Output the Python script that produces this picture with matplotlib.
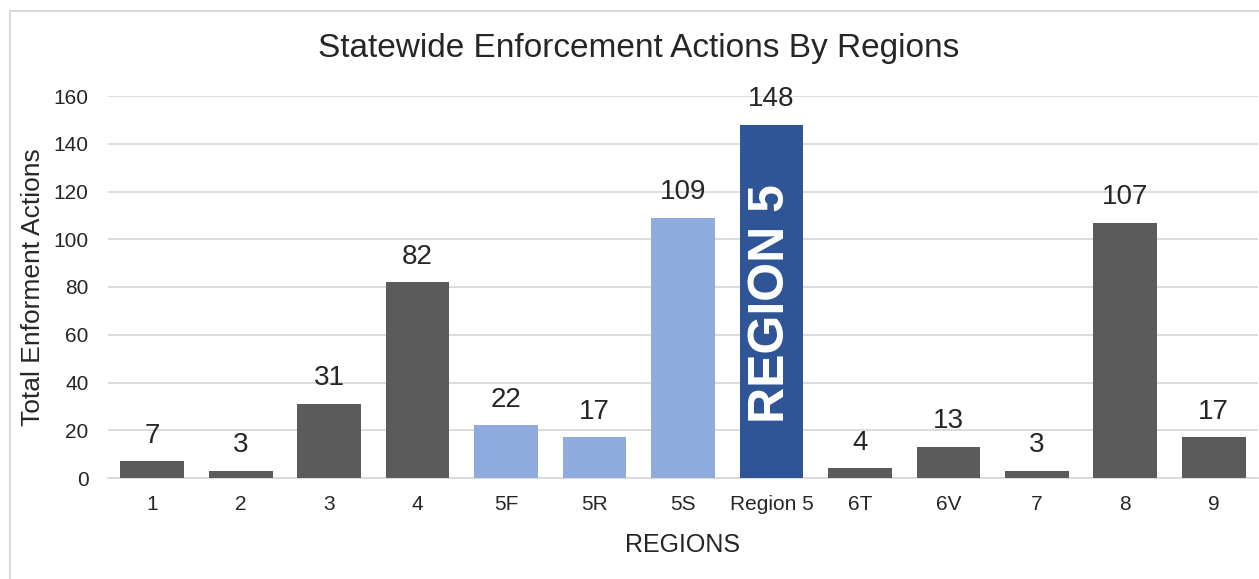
import matplotlib
matplotlib.use("Agg")
import matplotlib.pyplot as plt
from matplotlib.patches import Rectangle

# data ----------------------------------------------------------------------
regions = ["1", "2", "3", "4", "5F", "5R", "5S", "Region 5", "6T", "6V", "7", "8", "9"]
actions = [7, 3, 31, 82, 22, 17, 109, 148, 4, 13, 3, 107, 17]
groups = ["other", "other", "other", "other", "sub5", "sub5", "sub5", "total5",
          "other", "other", "other", "other", "other"]

colors = {"other": "#5B5B5B", "sub5": "#8FAADC", "total5": "#2F5597"}

plt.rcParams["font.family"] = ["Liberation Sans", "DejaVu Sans"]

fig = plt.figure(figsize=(12.59, 5.79), dpi=100)
ax = fig.add_axes([108 / 1259, 1 - 478 / 579, 1150 / 1259, 382 / 579])

# light chart-area border (cut off at right / bottom like the reference)
fig.patches.append(Rectangle((10 / 1259, -0.1), 1.2, 1 - 10.5 / 579 + 0.1,
                             transform=fig.transFigure, fill=False,
                             edgecolor="#D9D9D9", linewidth=1.5))

x = list(range(len(regions)))
bars = ax.bar(x, actions, width=0.72, color=[colors[g] for g in groups], zorder=3)

for rect, v in zip(bars, actions):
    ax.annotate(str(v), (rect.get_x() + rect.get_width() / 2, v),
                xytext=(0, 9), textcoords="offset points",
                ha="center", va="bottom", fontsize=20, color="#262626")

# label written inside the Region 5 bar
i5 = regions.index("Region 5")
ax.text(i5, 73, "REGION 5", rotation=90, ha="center", va="center",
        color="white", fontsize=36, fontweight="bold", zorder=4)

ax.set_xlim(-0.5, len(regions) - 0.5)
ax.set_ylim(0, 160)
ax.set_yticks(range(0, 161, 20))
ax.set_xticks(x)
ax.set_xticklabels(regions)
ax.tick_params(axis="both", length=0, labelsize=15, colors="#262626")
ax.tick_params(axis="x", pad=12)
ax.tick_params(axis="y", pad=14)
ax.grid(axis="y", color="#D9D9D9", linewidth=1.3, zorder=0)
for s in ["top", "right", "left"]:
    ax.spines[s].set_visible(False)
ax.spines["bottom"].set_color("#D9D9D9")
ax.spines["bottom"].set_linewidth(1.3)

ax.set_xlabel("REGIONS", fontsize=18, color="#262626", labelpad=14)
ax.set_ylabel("Total Enforment Actions", fontsize=19, color="#262626", labelpad=6)
fig.text(639 / 1259, 1 - 48 / 579, "Statewide Enforcement Actions By Regions",
         ha="center", va="center", fontsize=24, color="#262626")

fig.savefig("out.png", dpi=100)
